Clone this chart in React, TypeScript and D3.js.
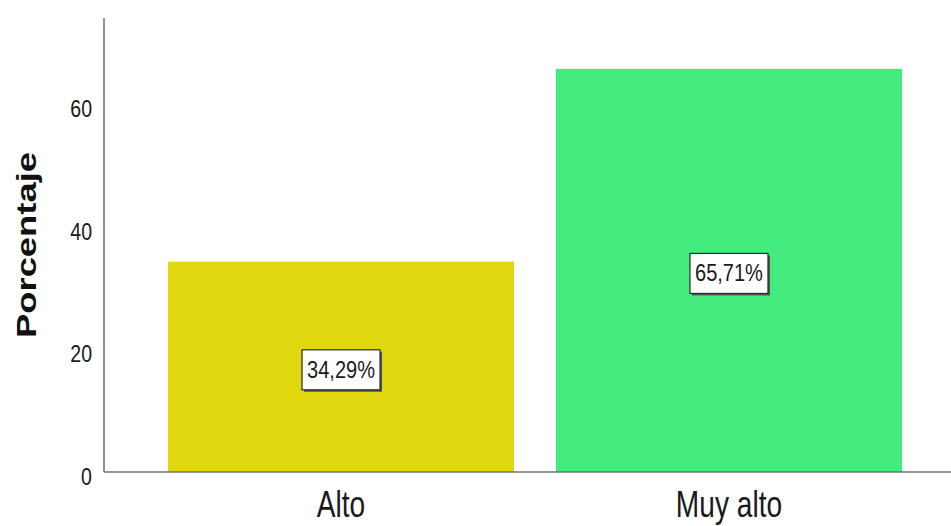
import * as d3 from "d3";
import React from "react";

const categories = ["Alto", "Muy alto"];
const percentages = [34.29, 65.71];
const barLabels = ["34,29%", "65,71%"];
const yTicks = [0, 20, 40, 60];
const barColors = ["#e1d70f", "#43eb7f"];

const W = 951;
const H = 526;
const font = "'Liberation Sans', Arial, sans-serif";

// condensed text: horizontal squeeze around the anchor point
const Narrow = ({ x, y, sx, size, anchor, children }: any) => (
	<text
		transform={`translate(${x},${y}) scale(${sx},1)`}
		textAnchor={anchor}
		fontFamily={font}
		fontSize={size}
		fill="#1a1a1a"
	>
		{children}
	</text>
);

const App = (): JSX.Element => {
	const axisX = 104;
	const baseY = 472;

	const x = d3.scaleBand<string>().domain(categories).range([168, 902]).paddingInner(0.108).paddingOuter(0);
	const y = d3.scaleLinear().domain([0, 74]).range([baseY, 18]);

	return (
		<svg width={W} height={H} style={{ position: "absolute", left: 0, top: 0, background: "#fff" }}>
			{/* bars */}
			{categories.map((c, i) => (
				<rect
					key={c}
					x={x(c)!}
					y={y(percentages[i])}
					width={x.bandwidth()}
					height={baseY - y(percentages[i])}
					fill={barColors[i]}
				/>
			))}
			{/* axes */}
			<line x1={axisX} x2={axisX} y1={y(74)} y2={baseY} stroke="#707070" strokeWidth={1.5} />
			<line x1={axisX} x2={W} y1={baseY} y2={baseY} stroke="#707070" strokeWidth={1.5} />
			{yTicks.map((t) => (
				<Narrow key={t} x={92} y={y(t) + 13} sx={0.85} size={23} anchor="end">
					{t}
				</Narrow>
			))}
			{categories.map((c) => (
				<Narrow key={c} x={x(c)! + x.bandwidth() / 2} y={517} sx={0.76} size={37} anchor="middle">
					{c}
				</Narrow>
			))}
			<text
				transform={`translate(36,245) rotate(-90)`}
				textAnchor="middle"
				fontFamily={font}
				fontWeight="bold"
				fontSize={28}
				textLength={186}
				lengthAdjust="spacingAndGlyphs"
				fill="#111"
			>
				Porcentaje
			</text>
			{/* value labels */}
			{categories.map((c, i) => {
				const cx = x(c)! + x.bandwidth() / 2;
				const cy = (y(percentages[i]) + baseY) / 2 + 3;
				const bw = 78;
				const bh = 40;
				return (
					<g key={c}>
						<rect x={cx - bw / 2 + 2} y={cy - bh / 2 + 2} width={bw} height={bh} fill="#555" />
						<rect x={cx - bw / 2} y={cy - bh / 2} width={bw} height={bh} fill="#fff" stroke="#2a2a2a" strokeWidth={1.2} />
						<Narrow x={cx} y={cy + 8} sx={0.87} size={23} anchor="middle">
							{barLabels[i]}
						</Narrow>
					</g>
				);
			})}
		</svg>
	);
};

export default App;
